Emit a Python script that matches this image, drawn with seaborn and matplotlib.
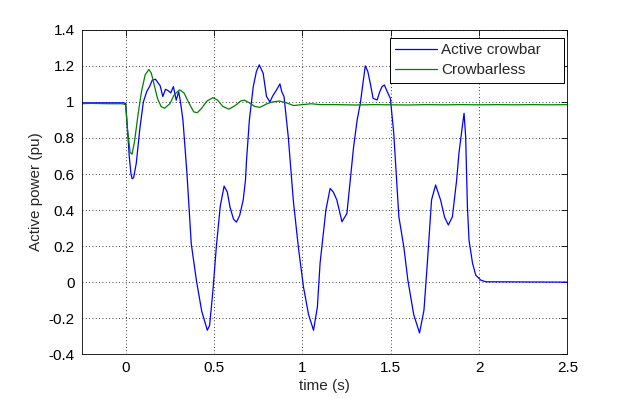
import numpy as np
import pandas as pd
import matplotlib
matplotlib.use("Agg")
import matplotlib.pyplot as plt
import seaborn as sns

# values
crowbar_t = [-0.25, -0.15, -0.05, -0.01, 0.0, 0.01, 0.02, 0.03, 0.036, 0.045, 0.06, 0.08,
             0.1, 0.12, 0.135, 0.15, 0.169, 0.18, 0.195, 0.21, 0.225, 0.24, 0.255, 0.27,
             0.286, 0.30, 0.31, 0.324, 0.347, 0.371, 0.40, 0.43, 0.462, 0.475, 0.494,
             0.513, 0.535, 0.557, 0.575, 0.59, 0.61, 0.627, 0.645, 0.665, 0.678, 0.684,
             0.70, 0.722, 0.74, 0.756, 0.778, 0.797, 0.816, 0.832, 0.854, 0.873, 0.883,
             0.896, 0.92, 0.949, 0.977, 1.006, 1.035, 1.063, 1.085, 1.1, 1.133, 1.157,
             1.175, 1.195, 1.224, 1.252, 1.271, 1.29, 1.31, 1.328, 1.345, 1.356, 1.37,
             1.384, 1.40, 1.423, 1.438, 1.451, 1.464, 1.48, 1.498, 1.517, 1.546, 1.574,
             1.597, 1.63, 1.663, 1.688, 1.707, 1.731, 1.754, 1.782, 1.805, 1.826, 1.849,
             1.873, 1.886, 1.905, 1.915, 1.924, 1.934, 1.943, 1.963, 1.981, 2.01, 2.038,
             2.5]
crowbar_p = [0.995, 0.995, 0.995, 0.995, 0.99, 0.85, 0.7, 0.6, 0.574, 0.58, 0.66, 0.85,
             1.0, 1.06, 1.085, 1.12, 1.126, 1.11, 1.09, 1.03, 1.07, 1.063, 1.05, 1.085,
             1.01, 1.057, 1.0, 0.9, 0.6, 0.214, 0.011, -0.16, -0.267, -0.24, -0.044,
             0.196, 0.42, 0.533, 0.5, 0.418, 0.35, 0.333, 0.37, 0.456, 0.567, 0.678,
             0.9, 1.085, 1.17, 1.206, 1.159, 1.03, 1.0, 1.033, 1.067, 1.10, 1.057,
             1.03, 0.807, 0.45, 0.196, -0.026, -0.18, -0.267, -0.137, 0.104, 0.4, 0.52,
             0.5, 0.456, 0.335, 0.381, 0.567, 0.752, 0.9, 0.993, 1.12, 1.2, 1.17,
             1.104, 1.02, 1.011, 1.057, 1.085, 1.094, 1.057, 1.02, 0.826, 0.363, 0.196,
             0.011, -0.18, -0.282, -0.156, 0.104, 0.456, 0.539, 0.456, 0.36, 0.317, 0.363,
             0.567, 0.715, 0.863, 0.937, 0.807, 0.418, 0.233, 0.104, 0.039, 0.011, 0.002,
             0.0]

crowbarless_t = [-0.25, -0.2, -0.1, -0.02, 0.0, 0.01, 0.025, 0.036, 0.05, 0.07, 0.09, 0.11,
                 0.131, 0.145, 0.16, 0.18, 0.2, 0.22, 0.25, 0.275, 0.305, 0.33, 0.36,
                 0.385, 0.405, 0.43, 0.46, 0.494, 0.52, 0.55, 0.584, 0.62, 0.65, 0.671,
                 0.7, 0.73, 0.76, 0.8, 0.83, 0.87, 0.91, 0.95, 1.0, 1.05, 1.1, 1.2, 1.3,
                 1.4, 1.5, 1.6, 1.7, 1.8, 1.9, 2.0, 2.1, 2.2, 2.3, 2.4, 2.5]
crowbarless_p = [0.99, 0.992, 0.99, 0.99, 0.985, 0.85, 0.72, 0.71, 0.78, 0.93, 1.06, 1.15,
                 1.18, 1.16, 1.1, 1.02, 0.975, 0.965, 0.99, 1.04, 1.067, 1.05, 0.99,
                 0.945, 0.94, 0.965, 1.005, 1.024, 1.01, 0.975, 0.96, 0.98, 1.005, 1.01,
                 0.995, 0.975, 0.97, 0.99, 1.0, 1.005, 0.995, 0.98, 0.985, 0.99, 0.985,
                 0.985, 0.983, 0.985, 0.984, 0.983, 0.985, 0.984, 0.985, 0.984, 0.985,
                 0.984, 0.985, 0.984, 0.985]

x_ticks = [0, 0.5, 1, 1.5, 2, 2.5]
y_ticks = [-0.4, -0.2, 0, 0.2, 0.4, 0.6, 0.8, 1, 1.2, 1.4]

sns.set_style("white")
plt.rcParams['font.family'] = ['Liberation Sans', 'DejaVu Sans']

fig = plt.figure(figsize=(6.27, 3.98), dpi=100)
ax = fig.add_axes([0.13, 0.11, 0.775, 0.815])

df_a = pd.DataFrame({"t": crowbar_t, "p": crowbar_p})
df_b = pd.DataFrame({"t": crowbarless_t, "p": crowbarless_p})
sns.lineplot(data=df_a, x="t", y="p", color=(0, 0, 1), lw=0.9, label="Active crowbar",
             estimator=None, sort=False, ax=ax)
sns.lineplot(data=df_b, x="t", y="p", color=(0, 0.5, 0), lw=0.9, label="Crowbarless",
             estimator=None, sort=False, ax=ax)

ax.set_xlim(-0.25, 2.5)
ax.set_ylim(-0.4, 1.4)
ax.set_xticks(x_ticks)
ax.set_yticks(y_ticks)
ax.set_xticklabels(["%g" % v for v in x_ticks])
ax.set_yticklabels(["%g" % v for v in y_ticks])
ax.grid(True, color="black", linestyle=(0, (1, 3)), lw=0.6)
ax.tick_params(direction="in", length=4, width=0.6, top=True, right=True,
               labelsize=11, colors="black", pad=5)
for s in ax.spines.values():
    s.set_visible(True)
    s.set_color("black")
    s.set_linewidth(0.6)

ax.set_xlabel("time (s)", fontsize=11, labelpad=3)
ax.set_ylabel("Active power (pu)", fontsize=11, labelpad=4)

# legend box stretched to the width seen in the reference
leg = ax.legend(loc="upper left", bbox_to_anchor=(0.634, 0.5, 0.358, 0.476),
                mode="expand", fontsize=11, frameon=True, fancybox=False,
                edgecolor="black", framealpha=1, borderpad=0.35, handlelength=2.75,
                handletextpad=0.25, labelspacing=0.42, borderaxespad=0)
leg.get_frame().set_linewidth(0.7)

fig.savefig("out.png", dpi=100, facecolor="white")
